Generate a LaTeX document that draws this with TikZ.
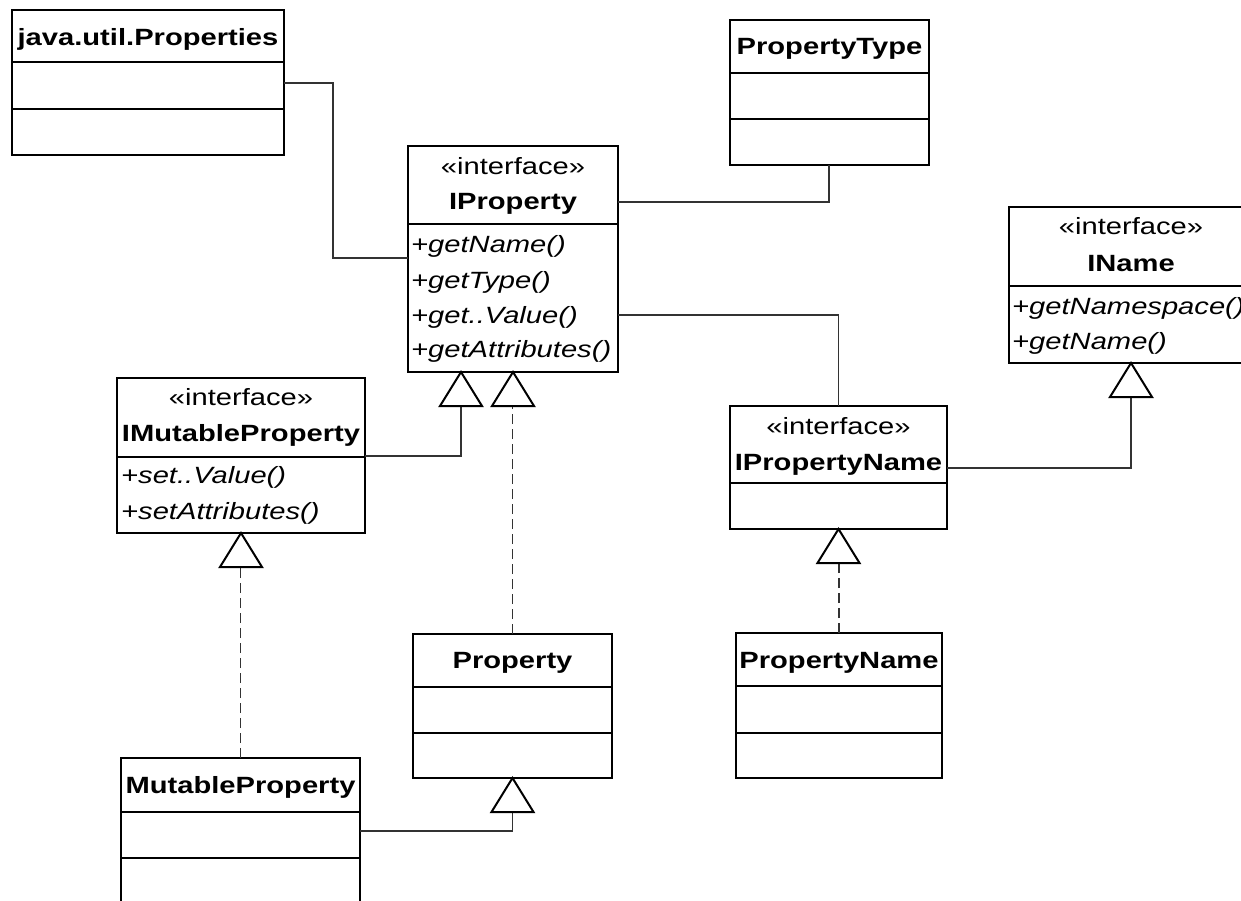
\documentclass[tikz,border=0pt]{standalone}
\usepackage{fontspec}
\setmainfont{Liberation Sans}[FakeStretch=1.24]
\usetikzlibrary{calc}
\tikzset{
  cls/.style={draw, line width=2.6pt, anchor=north west, inner sep=0pt, outer sep=0pt, fill=white},
  comp/.style={line width=2.4pt},
  txt/.style={inner sep=0pt, anchor=base, font=\fontsize{23.5}{28}\selectfont},
  ttl/.style={inner sep=0pt, anchor=base, font=\fontsize{23.5}{28}\selectfont\bfseries},
  mth/.style={inner sep=0pt, anchor=base west, font=\fontsize{23.5}{28}\selectfont\itshape},
  assoc/.style={line width=1.2pt, draw=black!80},
  real/.style={line width=1.2pt, draw=black!80, dash pattern=on 10pt off 5pt},
  tri/.style={line width=2pt, draw=black, fill=white, line join=miter},
}
\begin{document}
\begin{tikzpicture}[x=1pt,y=-1pt]
\useasboundingbox (0,0) rectangle (1241,901);
\clip (0,0) rectangle (1241,901);

% ---------- classes ----------
% java.util.Properties
\node[cls, minimum width=272pt, minimum height=145pt] (JP) at (12,10) {};
\draw[comp] ([yshift=-52pt]JP.north west) -- ([yshift=-52pt]JP.north east);
\draw[comp] ([yshift=-99pt]JP.north west) -- ([yshift=-99pt]JP.north east);
\node[ttl] (JPt) at (148,46) {java.util.Properties};

% PropertyType
\node[cls, minimum width=199pt, minimum height=145pt] (PT) at (730,20) {};
\draw[comp] ([yshift=-53pt]PT.north west) -- ([yshift=-53pt]PT.north east);
\draw[comp] ([yshift=-99pt]PT.north west) -- ([yshift=-99pt]PT.north east);
\node[ttl] (PTt) at (829.5,55) {PropertyType};

% IProperty
\node[cls, minimum width=210pt, minimum height=226pt] (IP) at (408,146) {};
\draw[comp] ([yshift=-78pt]IP.north west) -- ([yshift=-78pt]IP.north east);
\node[txt] (IPs) at (513,175) {«interface»};
\node[ttl] (IPt) at (513,210) {IProperty};
\node[mth] (IPm1) at (411,253) {+getName()};
\node[mth] (IPm2) at (411,288) {+getType()};
\node[mth] (IPm3) at (411,323) {+get..Value()};
\node[mth] (IPm4) at (411,357) {+getAttributes()};

% IName
\node[cls, minimum width=244pt, minimum height=156pt] (IN) at (1009,207) {};
\draw[comp] ([yshift=-79pt]IN.north west) -- ([yshift=-79pt]IN.north east);
\node[txt] (INs) at (1131,235) {«interface»};
\node[ttl] (INt) at (1131,272) {IName};
\node[mth] (INm1) at (1012,314) {+getNamespace()};
\node[mth] (INm2) at (1012,349) {+getName()};

% IPropertyName
\node[cls, minimum width=217pt, minimum height=123pt] (IPN) at (730,406) {};
\draw[comp] ([yshift=-77pt]IPN.north west) -- ([yshift=-77pt]IPN.north east);
\node[txt] (IPNs) at (838.5,434) {«interface»};
\node[ttl] (IPNt) at (838.5,470) {IPropertyName};

% IMutableProperty
\node[cls, minimum width=248pt, minimum height=155pt] (IMP) at (117,378) {};
\draw[comp] ([yshift=-79pt]IMP.north west) -- ([yshift=-79pt]IMP.north east);
\node[txt] (IMPs) at (241,405) {«interface»};
\node[ttl] (IMPt) at (241,441) {IMutableProperty};
\node[mth] (IMPm1) at (121,483) {+set..Value()};
\node[mth] (IMPm2) at (121,519) {+setAttributes()};

% Property
\node[cls, minimum width=199pt, minimum height=144pt] (P) at (413,634) {};
\draw[comp] ([yshift=-53pt]P.north west) -- ([yshift=-53pt]P.north east);
\draw[comp] ([yshift=-99pt]P.north west) -- ([yshift=-99pt]P.north east);
\node[ttl] (Pt) at (512.5,668) {Property};

% PropertyName
\node[cls, minimum width=206pt, minimum height=145pt] (PN) at (736,633) {};
\draw[comp] ([yshift=-53pt]PN.north west) -- ([yshift=-53pt]PN.north east);
\draw[comp] ([yshift=-100pt]PN.north west) -- ([yshift=-100pt]PN.north east);
\node[ttl] (PNt) at (839,668) {PropertyName};

% MutableProperty
\node[cls, minimum width=239pt, minimum height=200pt] (MP) at (121,758) {};
\draw[comp] ([yshift=-54pt]MP.north west) -- ([yshift=-54pt]MP.north east);
\draw[comp] ([yshift=-100pt]MP.north west) -- ([yshift=-100pt]MP.north east);
\node[ttl] (MPt) at (240.5,793) {MutableProperty};

% ---------- triangle apex / base coordinates ----------
\coordinate (IPa1) at ([xshift=53pt]IP.south west);
\coordinate (IPa2) at ([xshift=105pt]IP.south west);
\coordinate (INa) at (IN.south);
\coordinate (IPNa) at (IPN.south);
\coordinate (IMPa) at (IMP.south);
\coordinate (Pa) at (P.south);
\coordinate (IPb1) at ([yshift=-34pt]IPa1);
\coordinate (IPb2) at ([yshift=-34pt]IPa2);
\coordinate (INb) at ([yshift=-34pt]INa);
\coordinate (IPNb) at ([yshift=-34pt]IPNa);
\coordinate (IMPb) at ([yshift=-34pt]IMPa);
\coordinate (Pb) at ([yshift=-34pt]Pa);

% ---------- connectors ----------
\draw[assoc] ([yshift=-73pt]JP.north east) -- ++(49,0) |- ([yshift=-112pt]IP.north west);
\draw[assoc] ([xshift=99pt]PT.south west) |- ([yshift=-56pt]IP.north east);
\draw[assoc] ([yshift=-169pt]IP.north east) -| (IPN.north);
\draw[assoc] ([yshift=-62pt]IPN.north east) -| (INb);
\draw[assoc] ([yshift=-78pt]IMP.north east) -| (IPb1);
\draw[assoc] ([yshift=-73pt]MP.north east) -| (Pb);
\draw[real] (P.north) -- (P.north |- IPb2);
\draw[real] (PN.north) -- (PN.north |- IPNb);
\draw[real] (MP.north) -- (MP.north |- IMPb);

% ---------- generalization triangles ----------
\foreach \a in {IPa1,IPa2,INa,IPNa,IMPa,Pa}{
  \draw[tri] (\a) -- ++(-21,34) -- ++(42,0) -- cycle;
}
\end{tikzpicture}
\end{document}
